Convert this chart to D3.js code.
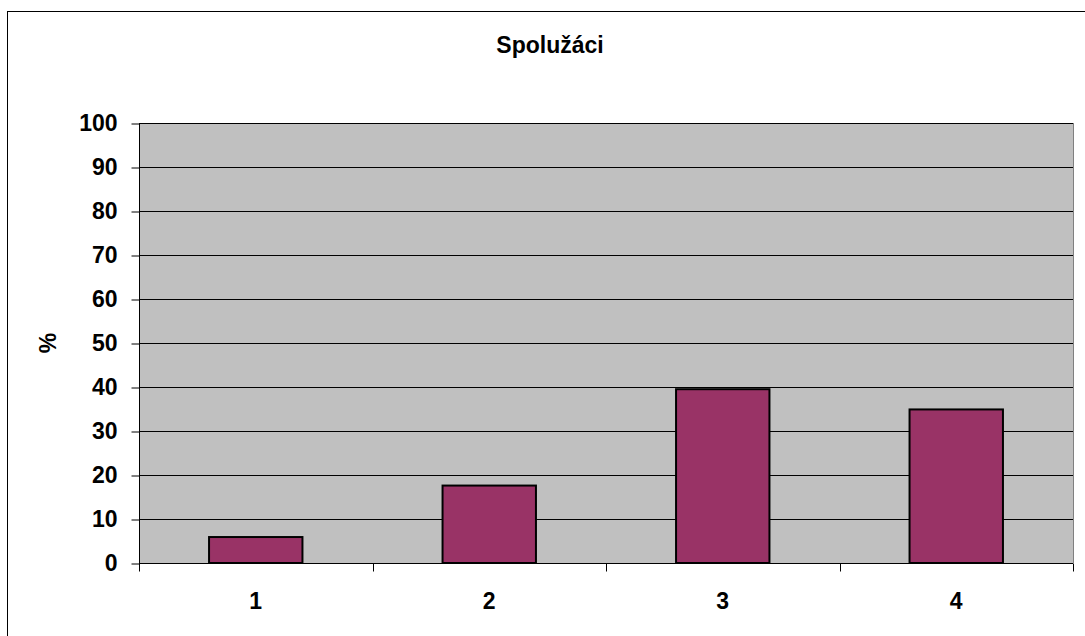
<!DOCTYPE html>
<html>
<head>
<meta charset="utf-8">
<script src="https://cdn.jsdelivr.net/npm/d3@7"></script>
<style>
body { margin: 0; background: #fff; }
text { font-family: "Liberation Sans", Arial, sans-serif; font-weight: bold; fill: #000; }
</style>
</head>
<body>
<svg width="1085" height="636"></svg>
<script>
// Data
var categories = ["1", "2", "3", "4"];
var values = [5.9, 17.6, 39.5, 34.9];
var yTicks = [0, 10, 20, 30, 40, 50, 60, 70, 80, 90, 100];
var title = "Spolužáci";
var yLabel = "%";

var svg = d3.select("svg");
var fontSize = "23px";

// plot area
var plotLeft = 139, plotRight = 1073, plotTop = 123, plotBottom = 563;

// outer frame (cut off on right and bottom)
svg.append("rect")
	.attr("x", 7.5).attr("y", 11.5)
	.attr("width", 1200).attr("height", 700)
	.attr("fill", "#fff").attr("stroke", "#000").attr("stroke-width", 1);

var x = d3.scaleBand()
	.domain(categories)
	.range([plotLeft, plotRight])
	.paddingInner(0.6)
	.paddingOuter(0.3);

var xEdge = d3.scaleLinear().domain([0, categories.length]).range([plotLeft, plotRight]);

var y = d3.scaleLinear().domain([0, 100]).range([plotBottom, plotTop]);

// background
svg.append("rect")
	.attr("x", plotLeft).attr("y", plotTop)
	.attr("width", plotRight - plotLeft).attr("height", plotBottom - plotTop)
	.attr("fill", "#c0c0c0");

// gridlines
svg.append("g")
	.selectAll("line")
	.data(yTicks.filter((d) => d > 0))
	.enter().append("line")
	.attr("x1", plotLeft).attr("x2", plotRight)
	.attr("y1", (d) => Math.round(y(d)) + 0.5)
	.attr("y2", (d) => Math.round(y(d)) + 0.5)
	.attr("stroke", "#000").attr("stroke-width", 1);

// right border of plot
svg.append("line")
	.attr("x1", plotRight + 0.5).attr("x2", plotRight + 0.5)
	.attr("y1", plotTop).attr("y2", plotBottom)
	.attr("stroke", "#808080");

// bars
svg.append("g")
	.selectAll("rect")
	.data(values)
	.enter().append("rect")
	.attr("x", (d, i) => x(categories[i]))
	.attr("y", (d) => y(d))
	.attr("width", x.bandwidth())
	.attr("height", (d) => y(0) - y(d))
	.attr("fill", "#993366")
	.attr("stroke", "#000")
	.attr("stroke-width", 2);

// y axis
var yAxis = svg.append("g")
	.attr("transform", "translate(" + (plotLeft + 0.5) + ",0.5)")
	.call(d3.axisLeft(y).tickValues(yTicks).tickSize(8).tickPadding(14).tickFormat(d3.format("d")));
yAxis.select(".domain").attr("stroke", "#000").attr("d", "M0," + plotTop + "V" + plotBottom);
yAxis.selectAll(".tick line").attr("stroke", "#000");
yAxis.selectAll("text").style("font-size", fontSize).attr("fill", "#000")
	.style("font-family", "'Liberation Sans', Arial, sans-serif").style("font-weight", "bold");

// x axis
var xAxis = svg.append("g")
	.attr("transform", "translate(0," + (plotBottom + 0.5) + ")");
xAxis.append("line")
	.attr("x1", plotLeft).attr("x2", plotRight)
	.attr("stroke", "#000");
xAxis.selectAll(".xt")
	.data(d3.range(categories.length + 1))
	.enter().append("line")
	.attr("x1", (d) => Math.round(xEdge(d)) + 0.5)
	.attr("x2", (d) => Math.round(xEdge(d)) + 0.5)
	.attr("y1", 0).attr("y2", 8)
	.attr("stroke", "#000");
xAxis.selectAll("text")
	.data(categories)
	.enter().append("text")
	.attr("x", (d) => x(d) + x.bandwidth() / 2)
	.attr("y", 45)
	.attr("text-anchor", "middle")
	.style("font-size", fontSize)
	.text((d) => d);

// title
svg.append("text")
	.attr("x", 550).attr("y", 53)
	.attr("text-anchor", "middle")
	.style("font-size", fontSize)
	.text(title);

// y label
svg.append("text")
	.attr("transform", "translate(56," + ((plotTop + plotBottom) / 2) + ") rotate(-90)")
	.attr("text-anchor", "middle")
	.style("font-size", fontSize)
	.text(yLabel);
</script>
</body>
</html>
